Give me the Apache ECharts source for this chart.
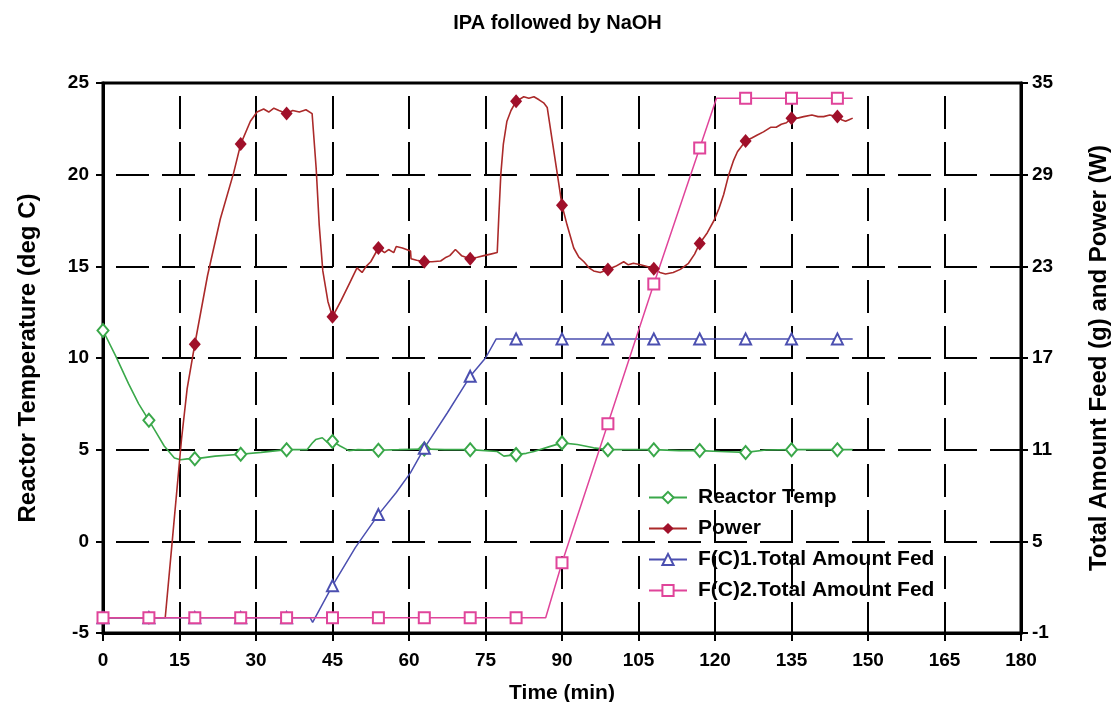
<!DOCTYPE html>
<html>
<head>
<meta charset="utf-8">
<title>IPA followed by NaOH</title>
<script src="https://cdn.jsdelivr.net/npm/echarts@6/dist/echarts.min.js"></script>
<style>
  html, body { margin: 0; padding: 0; background: #fff; }
  #chart { width: 1115px; height: 702px; }
</style>
</head>
<body>
<div id="chart"></div>
<script>
// time (min), value
var reactorTemp = [[0,11.5],[2.5,10.1],[5,8.6],[7,7.5],[9,6.6],[10.5,5.9],[12,5.2],[14,4.55],[15.2,4.45],[16.5,4.5],[18,4.5],[22,4.65],[27,4.75],[31,4.85],[36,5.0],[40,5.0],[41,5.35],[41.7,5.55],[43,5.65],[44,5.4],[45,5.45],[46.5,5.2],[48.2,4.95],[50,5.0],[54,4.97],[58,5.0],[63,5.04],[67,5.0],[72,5.0],[77.3,4.9],[78.6,4.65],[81,4.73],[83,4.8],[84.5,4.9],[87.7,5.18],[90,5.37],[93,5.28],[96.2,5.1],[99,5.0],[104,5.0],[108,5.0],[113,4.95],[117,4.95],[121,4.9],[126,4.85],[130,4.98],[135,5.0],[140,5.0],[144,5.0],[147,5.0]];

var power = [[0,0],[9,0],[12.2,0],[13.6,5.1],[15.4,11.7],[16.5,15.0],[18,17.9],[20.5,22.4],[23,26.1],[25.6,29.1],[27,31.0],[28.9,32.5],[30.2,33.1],[31.5,33.3],[32.5,33.1],[33.5,33.35],[34.5,33.2],[36,33.0],[37.2,33.2],[38.5,33.1],[39.8,33.25],[41,33.0],[41.8,29.4],[42.4,25.7],[43.1,22.7],[44.1,20.7],[45,19.7],[46.6,20.7],[48.5,22.0],[49.8,22.9],[50.8,22.6],[51.6,23.0],[52.5,23.3],[54,24.2],[55.2,23.9],[56,24.1],[57,23.9],[57.5,24.3],[58.7,24.2],[60.3,24.0],[60.4,23.5],[61.5,23.4],[63,23.3],[64.5,23.3],[66.2,23.35],[67.3,23.6],[68,23.7],[69.1,24.1],[70.3,23.7],[72,23.5],[73.4,23.6],[74.7,23.7],[76,23.8],[77.3,23.9],[77.6,26.2],[78,29.0],[78.5,31.0],[79.2,32.5],[80,33.2],[81,33.8],[82.5,34.1],[83.5,34.0],[84.5,34.1],[85.5,33.9],[86.4,33.7],[87.1,33.4],[88.1,31.2],[89.1,29.0],[90,27.0],[91,25.7],[92.3,24.2],[93.3,23.6],[94.3,23.3],[95.3,22.9],[96.2,22.7],[97.5,22.6],[99,22.8],[100.5,23.0],[102.1,23.3],[103,23.1],[104,23.2],[105.4,23.1],[106.5,23.0],[108,22.85],[109.2,22.6],[110.3,22.5],[111.8,22.6],[113.2,22.8],[114.8,23.2],[116,23.8],[117,24.5],[118.5,25.2],[119.8,26.0],[120.8,26.8],[121.7,27.7],[122.7,29.0],[123.6,29.9],[124.4,30.5],[126,31.2],[127.2,31.4],[128.3,31.6],[129.5,31.8],[130.9,32.1],[132,32.1],[133,32.3],[134,32.4],[135,32.7],[136.2,32.7],[137.4,32.8],[139,32.9],[140.2,32.8],[141.3,32.8],[142.5,32.9],[144,32.8],[144.8,32.6],[145.6,32.5],[146.3,32.6],[147,32.7]];

var fed1 = [[0,0],[9,0],[18,0],[27,0],[36,0],[40.6,0],[41.1,-0.3],[45,2.1],[49.5,4.6],[54,6.75],[57.5,8.2],[60.3,9.5],[63,11.1],[67.5,13.4],[72,15.8],[75,17.0],[77.1,18.25],[81,18.25],[90,18.25],[99,18.25],[108,18.25],[117,18.25],[126,18.25],[135,18.25],[144,18.25],[147,18.25]];

var fed2 = [[0,0],[9,0],[18,0],[27,0],[36,0],[45,0],[54,0],[63,0],[72,0],[81,0],[86.8,0],[90,3.6],[99,12.7],[108,21.85],[117,30.75],[120.3,34],[126,34],[135,34],[144,34],[147,34]];

var seriesNames = ['Reactor Temp', 'Power', 'F(C)1.Total Amount Fed', 'F(C)2.Total Amount Fed'];
var markEvery = 9; // a marker every 9 min

var FONT = 'Liberation Sans, Arial, sans-serif';

// only the sample points on the 9 min steps get a symbol
function withMarks(list) {
  return list.map(function (p) {
    var item = { value: p };
    if (p[0] % markEvery !== 0) item.symbol = 'none';
    return item;
  });
}

var chart = echarts.init(document.getElementById('chart'));

var labelStyle = { color: '#000', fontFamily: FONT, fontWeight: 'bold', fontSize: 19 };
var nameStyle = { color: '#000', fontFamily: FONT, fontWeight: 'bold', fontSize: 24 };
var gridDash = { color: '#000', width: 2, type: [33, 13], dashOffset: 33 };

chart.setOption({
  animation: false,
  backgroundColor: '#fff',
  title: {
    text: 'IPA followed by NaOH',
    left: 'center',
    top: 8,
    textStyle: { color: '#000', fontFamily: FONT, fontWeight: 'bold', fontSize: 20 }
  },
  legend: {
    orient: 'vertical',
    left: 643,
    top: 482,
    itemWidth: 38,
    itemHeight: 14,
    itemGap: 10,
    data: seriesNames,
    textStyle: { color: '#000', fontFamily: FONT, fontWeight: 'bold', fontSize: 21, padding: [0, 0, 0, 6] }
  },
  grid: {
    left: 103,
    right: 94,
    top: 83,
    bottom: 69,
    outerBoundsMode: 'none',
    containLabel: false,
    show: true,
    borderColor: '#000',
    borderWidth: 3
  },
  xAxis: {
    type: 'value',
    min: 0,
    max: 180,
    interval: 15,
    name: 'Time (min)',
    nameLocation: 'middle',
    nameGap: 50,
    nameTextStyle: { color: '#000', fontFamily: FONT, fontWeight: 'bold', fontSize: 21 },
    axisLine: { onZero: false, lineStyle: { color: '#000', width: 3 } },
    axisTick: { length: 8, lineStyle: { color: '#000', width: 2 } },
    axisLabel: Object.assign({ margin: 18 }, labelStyle),
    splitLine: { show: true, lineStyle: gridDash }
  },
  yAxis: [
    {
      type: 'value',
      min: -5,
      max: 25,
      interval: 5,
      position: 'left',
      name: 'Reactor Temperature (deg C)',
      nameLocation: 'middle',
      nameRotate: 90,
      nameGap: 63,
      nameTextStyle: nameStyle,
      axisLine: { show: true, onZero: false, lineStyle: { color: '#000', width: 3 } },
      axisTick: { show: true, length: 7, lineStyle: { color: '#000', width: 2 } },
      axisLabel: Object.assign({ margin: 14 }, labelStyle),
      splitLine: { show: true, lineStyle: gridDash }
    },
    {
      type: 'value',
      min: -1,
      max: 35,
      interval: 6,
      position: 'right',
      name: 'Total Amount Feed (g) and Power (W)',
      nameLocation: 'middle',
      nameRotate: 90,
      nameGap: 66,
      nameTextStyle: nameStyle,
      axisLine: { show: true, onZero: false, lineStyle: { color: '#000', width: 3 } },
      axisTick: { show: true, length: 7, lineStyle: { color: '#000', width: 2 } },
      axisLabel: Object.assign({ margin: 11 }, labelStyle),
      splitLine: { show: false }
    }
  ],
  series: [
    {
      name: seriesNames[0],
      type: 'line',
      yAxisIndex: 0,
      data: withMarks(reactorTemp),
      symbol: 'emptyDiamond',
      symbolSize: [11, 13],
      showAllSymbol: true,
      lineStyle: { color: '#3aa84a', width: 1.6 },
      itemStyle: { color: '#3aa84a', borderWidth: 1.5 }
    },
    {
      name: seriesNames[1],
      type: 'line',
      yAxisIndex: 1,
      data: withMarks(power),
      symbol: 'diamond',
      symbolSize: [12, 14],
      showAllSymbol: true,
      lineStyle: { color: '#ab2a2a', width: 1.6 },
      itemStyle: { color: '#a0102a' }
    },
    {
      name: seriesNames[2],
      type: 'line',
      yAxisIndex: 1,
      data: withMarks(fed1),
      symbol: 'emptyTriangle',
      symbolSize: [11, 11],
      showAllSymbol: true,
      lineStyle: { color: '#4b4fb0', width: 1.5 },
      itemStyle: { color: '#4b4fb0', borderWidth: 1.5 }
    },
    {
      name: seriesNames[3],
      type: 'line',
      yAxisIndex: 1,
      data: withMarks(fed2),
      symbol: 'emptyRect',
      symbolSize: [11, 11],
      showAllSymbol: true,
      lineStyle: { color: '#e0449a', width: 1.5 },
      itemStyle: { color: '#e0449a', borderWidth: 1.5 }
    }
  ]
});
</script>
</body>
</html>
